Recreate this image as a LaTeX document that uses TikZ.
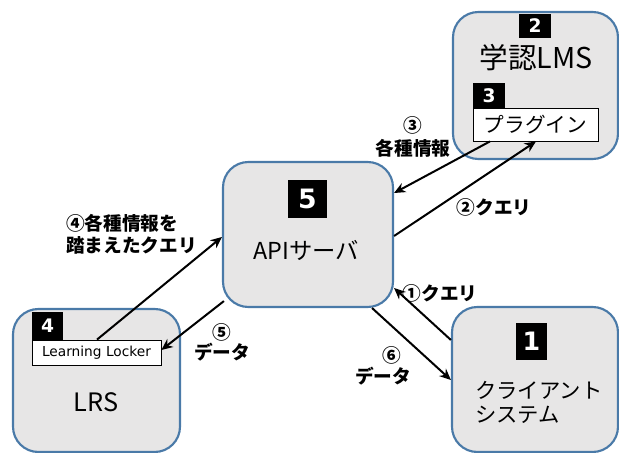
\documentclass[tikz,border=0pt]{standalone}
\usepackage{fontspec}
\newfontfamily\jp{Noto Sans CJK JP}
\newfontfamily\dv{DejaVu Sans}
\usetikzlibrary{fit,arrows.meta}
\definecolor{boxfill}{HTML}{E7E6E6}
\definecolor{boxline}{HTML}{4A7AA8}
\tikzset{
  bigbox/.style={draw=boxline, fill=boxfill, line width=1.6pt, rounded corners=19pt, inner sep=0pt},
  numsq/.style={fill=black, text=white, inner sep=0pt, font=\dv\bfseries\fontsize{14}{14}\selectfont},
  whitebox/.style={draw=black, fill=white, line width=0.6pt, inner sep=0pt},
  arr/.style={draw=black, line width=1.5pt, -{Stealth[length=8.5pt,width=7.5pt]}},
  lbl/.style={font=\jp\bfseries\fontsize{14}{15}\selectfont, inner sep=0pt},
}
\begin{document}
\begin{tikzpicture}[x=0.75pt,y=-0.75pt]
\useasboundingbox (0,0) rectangle (619,453);
% boxes
\node[bigbox, fit={(453,12)(618,159)}] (lms) {};
\node[bigbox, fit={(223,162)(393,307)}] (api) {};
\node[bigbox, fit={(13,309)(180,452)}] (lrs) {};
\node[bigbox, fit={(452,307)(618,452)}] (client) {};
% LMS content
\node[numsq, minimum width=24pt, minimum height=18pt] (n2) at (535,26) {2};
\node[font=\jp\fontsize{21.5}{22}\selectfont] (lmst) at (536,58) {学認LMS};
\node[numsq, minimum width=24pt, minimum height=19pt] (n3) at (489,95.5) {3};
\node[whitebox, fit={(473,108)(598,141)}] (plugin) {};
\node[font=\jp\fontsize{15.5}{16}\selectfont] (plugint) at (plugin.center) {プラグイン};
% API content
\node[numsq, minimum width=29pt, minimum height=28.5pt, font=\dv\bfseries\fontsize{20}{20}\selectfont] (n5) at (307.5,199) {5};
\node[font=\jp\fontsize{17.5}{18}\selectfont] (apit) at (306,250) {APIサーバ};
% LRS content
\node[numsq, minimum width=23.5pt, minimum height=21pt] (n4) at (47.5,326) {4};
\node[whitebox, fit={(32,340)(161,365)}] (ll) {};
\node[font=\dv\fontsize{10.3}{11}\selectfont] (llt) at (ll.center) {Learning Locker};
\node[font=\jp\fontsize{19}{20}\selectfont] (lrst) at (96,402) {LRS};
% client content
\node[numsq, minimum width=23.5pt, minimum height=28pt, font=\dv\bfseries\fontsize{19}{19}\selectfont] (n1) at (531.5,341.5) {1};
\node[font=\jp\fontsize{16}{17}\selectfont, anchor=west, inner sep=0pt] (ct1) at (475,390) {クライアント};
\node[font=\jp\fontsize{16}{17}\selectfont, anchor=west, inner sep=0pt] (ct2) at (475,415) {システム};
% arrows
\draw[arr] (client.west |- 0,340) -- (api.east |- 0,288);
\draw[arr] (372,308) -- (client.west |- 0,380);
\draw[arr] (api.east |- 0,236) -- (plugin.south -| 536,0);
\draw[arr] (plugin.south -| 490,0) -- (api.east |- 0,193);
\draw[arr] (ll.north -| 97,0) -- (api.west |- 0,237);
\draw[arr] ([shift={(2,-7)}]api.south west) -- (ll.east |- 0,350);
% labels
\node[lbl] (l1) at (440,293) {①クエリ};
\node[lbl] (l6a) at (392,355) {⑥};
\node[lbl] (l6b) at (383,376) {データ};
\node[lbl] (l2) at (494,207) {②クエリ};
\node[lbl] (l3a) at (413,125) {③};
\node[lbl] (l3b) at (413,148) {各種情報};
\node[lbl, anchor=west] (l4a) at (66,223) {④各種情報を};
\node[lbl, anchor=west] (l4b) at (66,245) {踏まえたクエリ};
\node[lbl] (l5a) at (222,332) {⑤};
\node[lbl] (l5b) at (222,352) {データ};
\end{tikzpicture}
\end{document}
